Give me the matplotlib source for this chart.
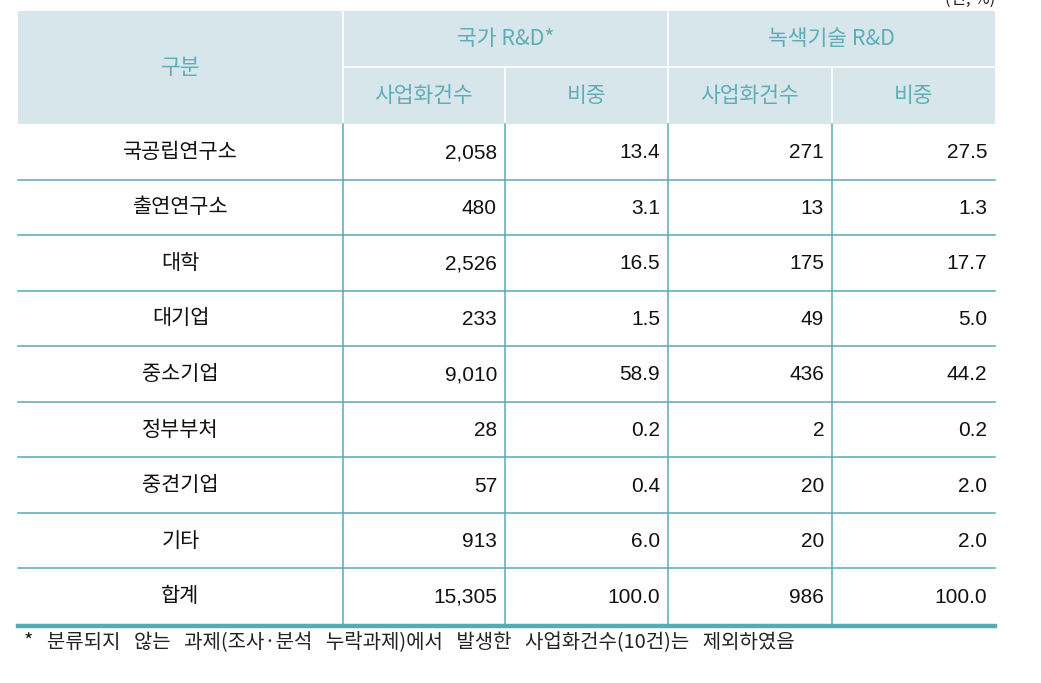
import matplotlib
matplotlib.use("Agg")
import matplotlib.pyplot as plt
from matplotlib.patches import Rectangle

# ---- data ----
categories = ["국공립연구소", "출연연구소", "대학", "대기업", "중소기업", "정부부처", "중견기업", "기타", "합계"]
national_count = ["2,058", "480", "2,526", "233", "9,010", "28", "57", "913", "15,305"]
national_share = ["13.4", "3.1", "16.5", "1.5", "58.9", "0.2", "0.4", "6.0", "100.0"]
green_count = ["271", "13", "175", "49", "436", "2", "20", "20", "986"]
green_share = ["27.5", "1.3", "17.7", "5.0", "44.2", "0.2", "2.0", "2.0", "100.0"]
group_headers = ["국가 R&D*", "녹색기술 R&D"]
sub_headers = ["사업화건수", "비중", "사업화건수", "비중"]
first_header = "구분"
unit_text = "(건, %)"
footnote = "* 분류되지 않는 과제(조사·분석 누락과제)에서 발생한 사업화건수(10건)는 제외하였음"

# ---- layout ----
W, H = 1041, 683
col_edges = [18, 343, 505, 668, 832, 995]
head_top, head_mid, head_bot = 11, 67, 124
row_h = (624 - head_bot) / len(categories)

teal = "#5aaab3"
head_bg = "#d7e6eb"
head_fg = "#5eadb9"
kr = ["Noto Sans CJK KR", "DejaVu Sans"]
num_font = ["Liberation Sans", "DejaVu Sans"]

fig = plt.figure(figsize=(W / 100, H / 100), dpi=100)
ax = fig.add_axes([0, 0, 1, 1])
ax.set_xlim(0, W)
ax.set_ylim(H, 0)
ax.axis("off")

# header background
ax.add_patch(Rectangle((col_edges[0], head_top), col_edges[-1] - col_edges[0],
                       head_bot - head_top, facecolor=head_bg, edgecolor="none"))
# header white separators
ax.plot([col_edges[1], col_edges[1]], [head_top, head_bot], color="white", lw=1.2)
ax.plot([col_edges[3], col_edges[3]], [head_top, head_bot], color="white", lw=1.2)
ax.plot([col_edges[2], col_edges[2]], [head_mid, head_bot], color="white", lw=1.2)
ax.plot([col_edges[4], col_edges[4]], [head_mid, head_bot], color="white", lw=1.2)
ax.plot([col_edges[1], col_edges[-1]], [head_mid, head_mid], color="white", lw=1.2)

# header text
hfs = 15.5
ax.text((col_edges[0] + col_edges[1]) / 2, (head_top + head_bot) / 2, first_header,
        ha="center", va="center", fontsize=hfs, color=head_fg, family=kr)
for i, g in enumerate(group_headers):
    x0, x1 = col_edges[1 + 2 * i], col_edges[3 + 2 * i]
    ax.text((x0 + x1) / 2, (head_top + head_mid) / 2, g, ha="center", va="center",
            fontsize=hfs, color=head_fg, family=kr)
for i, s in enumerate(sub_headers):
    x0, x1 = col_edges[1 + i], col_edges[2 + i]
    ax.text((x0 + x1) / 2, (head_mid + head_bot) / 2, s, ha="center", va="center",
            fontsize=hfs, color=head_fg, family=kr)

# unit (clipped at top, as in the reference)
ax.text(col_edges[-1], -1, unit_text, ha="right", va="center", fontsize=12,
        color="#222222", family=kr)

# body
cols = [national_count, national_share, green_count, green_share]
body_bot = head_bot + row_h * len(categories)
for r, cat in enumerate(categories):
    y0 = head_bot + r * row_h
    yc = y0 + row_h / 2
    ax.text((col_edges[0] + col_edges[1]) / 2, yc, cat, ha="center", va="center",
            fontsize=15, color="#111111", family=kr)
    for c, vals in enumerate(cols):
        ax.text(col_edges[c + 2] - 8, yc + 1, vals[r], ha="right", va="center",
                fontsize=15, color="#111111", family=num_font)
    if r > 0:
        ax.plot([col_edges[0], col_edges[-1]], [y0, y0], color=teal, lw=1.1)

for x in col_edges[1:-1]:
    ax.plot([x, x], [head_bot, body_bot], color=teal, lw=1.1)
ax.plot([col_edges[0], col_edges[-1]], [body_bot + 1.5, body_bot + 1.5], color=teal, lw=3.2)

# footnote (wide word spacing as in the reference)
ax.text(24, 643, footnote.replace(" ", "   "), ha="left", va="center",
        fontsize=14.4, color="#222222", family=kr)

fig.savefig("out.png", dpi=100)
